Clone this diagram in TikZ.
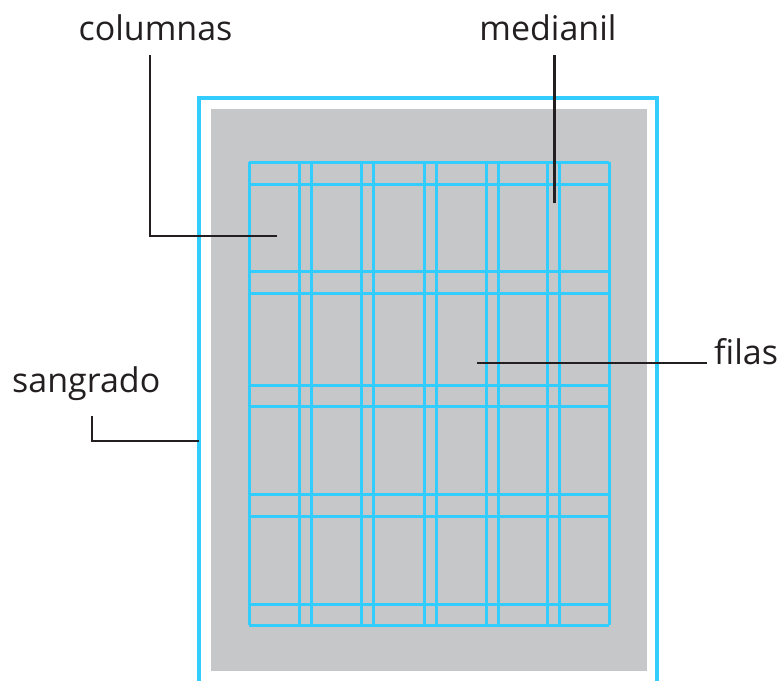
\documentclass[tikz,border=0pt]{standalone}
\usepackage{fontspec}
\setmainfont[Ligatures=Common]{Open Sans}
\definecolor{gridcyan}{HTML}{33CCFF}
\definecolor{pagegray}{HTML}{C6C7C8}
\definecolor{inkdark}{HTML}{231F20}
\begin{document}
\begin{tikzpicture}[x=1pt,y=-1pt,
  gridline/.style={draw=gridcyan,line width=3pt},
  bleedline/.style={draw=gridcyan,line width=3.2pt},
  leader/.style={draw=inkdark,line width=2.2pt},
  lbl/.style={text=inkdark,inner sep=0pt,anchor=base,font=\fontsize{34}{40}\selectfont}]
\useasboundingbox (0,0) rectangle (784,680);
% page
\fill[pagegray] (211,109) rectangle (647,671);
% bleed
\draw[bleedline] (199,682) -- (199,98) -- (657,98) -- (657,682);
% grid
\foreach \xx in {249,299,311,361,373,424,436,486,498,547,559,609}
  \draw[gridline] (\xx,162) -- (\xx,625);
\foreach \yy in {162,184,271,293,385,406,494,516,604,625}
  \draw[gridline] (249,\yy) -- (609,\yy);
% labels
\node[lbl] (columnas) at (155.5,40) {columnas};
\node[lbl] (medianil) at (548,40) {medianil};
\node[lbl,anchor=base west] (filas) at (714,364) {filas};
\node[lbl,anchor=base west] (sangrado) at (12,392) {sangrado};
% leader coordinates
\coordinate (colA) at (150,55);
\coordinate (colB) at (150,236);
\coordinate (colC) at (277,236);
\coordinate (medA) at (554.5,55);
\coordinate (medB) at (554.5,203);
\coordinate (filA) at (707,363);
\coordinate (filB) at (477,363);
\coordinate (sanA) at (92,416);
\coordinate (sanB) at (92,441);
\coordinate (sanC) at (199,441);
\draw[leader] (colA) -- (colB) -- (colC);
\draw[leader] (medA) -- (medB);
\draw[leader] (filA) -- (filB);
\draw[leader] (sanA) -- (sanB) -- (sanC);
\end{tikzpicture}
\end{document}
